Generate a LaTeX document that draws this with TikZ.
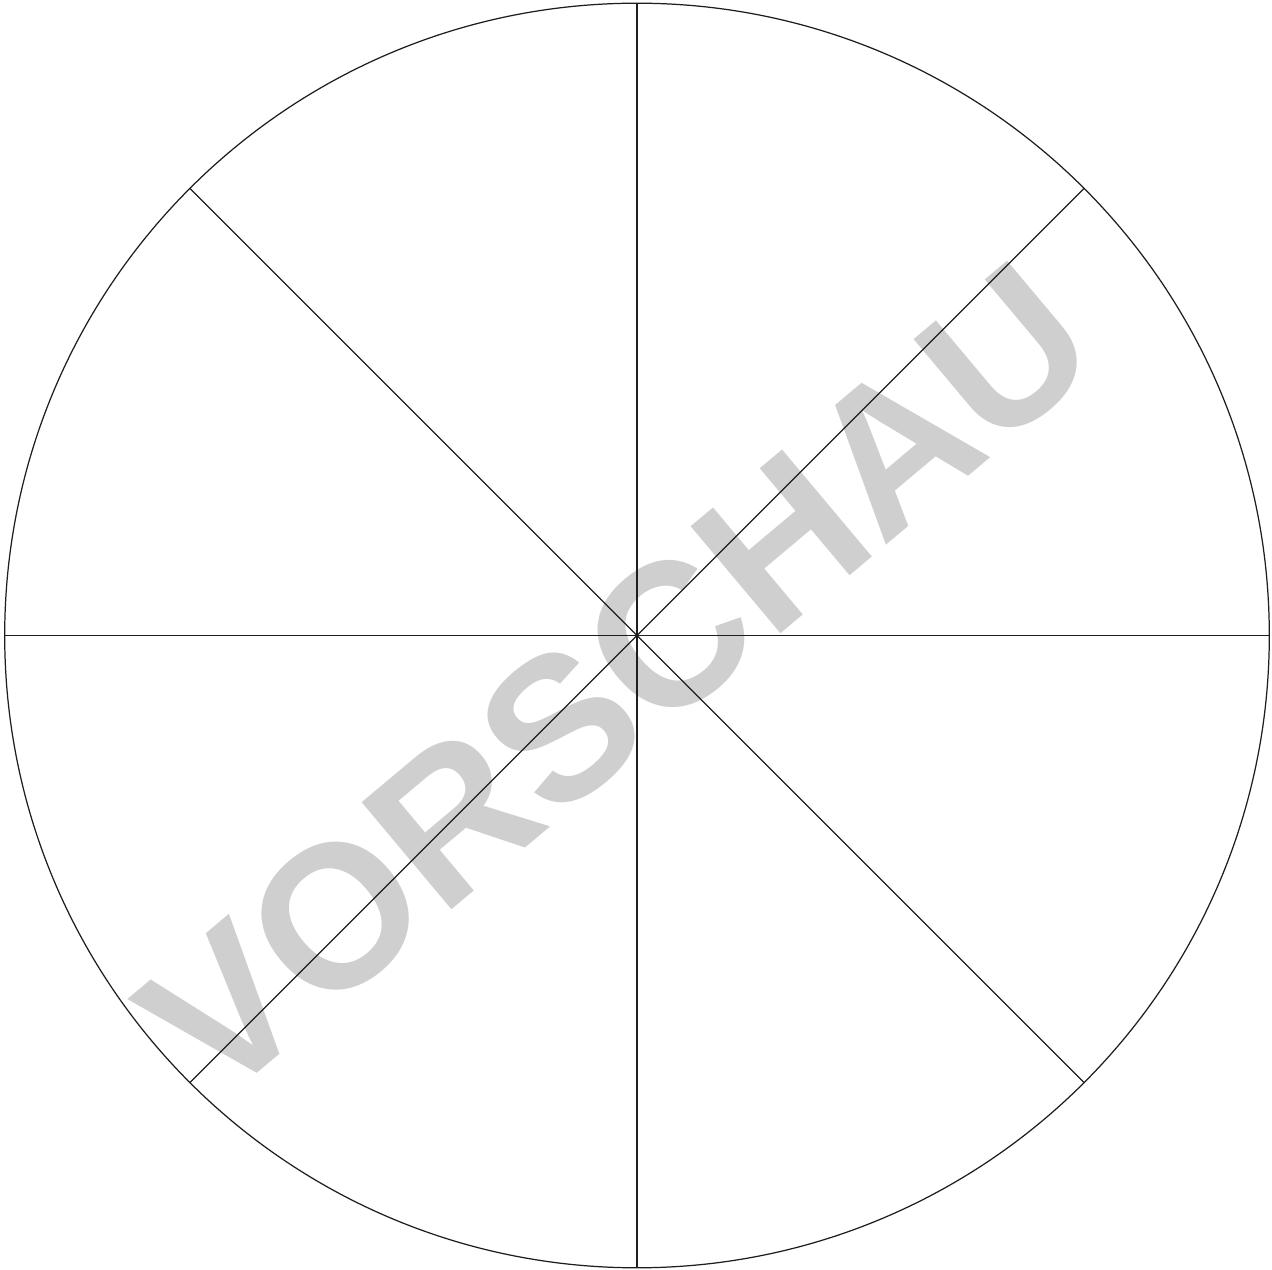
\documentclass[tikz,border=0pt]{standalone}
\usepackage{fontspec}
\setmainfont{Liberation Sans}
\usetikzlibrary{calc}
\definecolor{wmgray}{RGB}{207,207,207}
\definecolor{linecol}{RGB}{30,30,30}
\tikzset{
  rim/.style={draw=linecol, line width=0.35pt},
  spoke/.style={draw=linecol, line width=0.35pt},
  watermark/.style={text=wmgray, inner sep=0pt, rotate=40,
    font=\fontsize{57.8pt}{60pt}\selectfont\bfseries}
}
\begin{document}
\begin{tikzpicture}[x=0.1mm,y=-0.1mm]
\useasboundingbox (0,0) rectangle (1272,1270);
\fill[white] (0,0) rectangle (1272,1270);
\node[watermark] (wm) at (617,680) {VORSCHAU};
\coordinate (c) at (637,635.5);
\draw[rim] (c) circle [radius=632.3];
\foreach \a/\n in {0/e,45/ne,90/n,135/nw,180/w,225/sw,270/s,315/se}{
  \coordinate (\n) at ($(c)+(\a:632.3 and -632.3)$);
}
\draw[spoke] (n) -- (s);
\draw[spoke] (w) -- (e);
\draw[spoke] (nw) -- (se);
\draw[spoke] (ne) -- (sw);
\end{tikzpicture}
\end{document}
